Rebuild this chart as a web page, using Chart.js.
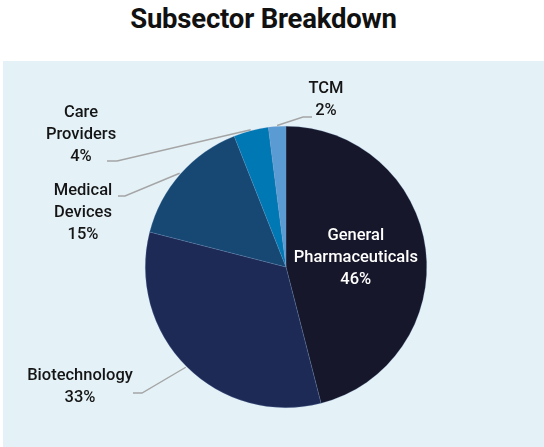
<!DOCTYPE html>
<html>
<head>
<meta charset="utf-8">
<script src="https://cdn.jsdelivr.net/npm/chart.js@4.4.0/dist/chart.umd.min.js"></script>
<style>
  html, body { margin: 0; padding: 0; background: #fff; }
  body { width: 544px; height: 447px; position: relative; overflow: hidden; font-family: Roboto, sans-serif; }
  #title { position: absolute; left: 0; top: 2px; width: 527px; text-align: center; font-weight: 700; font-size: 27.5px; color: #111; letter-spacing: -0.2px; }
  #panel { position: absolute; left: 3px; top: 61px; width: 541px; height: 386px; background: #e4f2f8; }
  #wrap { position: absolute; left: 0; top: 0; width: 544px; height: 447px; }
</style>
</head>
<body>
<div id="title">Subsector Breakdown</div>
<div id="panel"></div>
<div id="wrap"><canvas id="pieChart"></canvas></div>
<script>
const categories = ['General Pharmaceuticals', 'Biotechnology', 'Medical Devices', 'Care Providers', 'TCM'];
const shares = [46, 33, 15, 4, 2];
const sliceColors = ['#16172a', '#1e2a56', '#174873', '#0078b4', '#5b9bd4'];
const labelLines = [['General', 'Pharmaceuticals'], ['Biotechnology'], ['Medical', 'Devices'], ['Care', 'Providers'], ['TCM']];

// where each label's first line sits and where its leader line starts
const labelLayout = [
    { inside: true },
    { x: 80, y: 376, from: [133, 393], elbow: [142, 393] },
    { x: 83, y: 191, from: [118, 196], elbow: [125, 196] },
    { x: 81, y: 113, from: [107, 161], elbow: [117, 161] },
    { x: 326, y: 89, from: [312, 117], elbow: [303, 117] }
];

const sliceLabels = {
    id: 'sliceLabels',
    afterDatasetsDraw(chart) {
        const ctx = chart.ctx;
        const arcs = chart.getDatasetMeta(0).data;
        const lineGap = 22;
        ctx.save();
        ctx.font = '500 16.5px Roboto, sans-serif';
        ctx.textAlign = 'center';
        ctx.textBaseline = 'middle';
        arcs.forEach((arc, i) => {
            const lines = labelLines[i].concat([shares[i] + '%']);
            const lay = labelLayout[i];
            if (lay.inside) {
                const c = arc.getCenterPoint();
                const y0 = c.y - lineGap * (lines.length - 1) / 2;
                ctx.fillStyle = '#ffffff';
                lines.forEach((t, k) => ctx.fillText(t, c.x, y0 + k * lineGap));
                return;
            }
            const mid = (arc.startAngle + arc.endAngle) / 2;
            const ex = arc.x + Math.cos(mid) * (arc.outerRadius + 1);
            const ey = arc.y + Math.sin(mid) * (arc.outerRadius + 1);
            ctx.strokeStyle = '#a5a5a5';
            ctx.lineWidth = 1.4;
            ctx.beginPath();
            ctx.moveTo(lay.from[0], lay.from[1]);
            ctx.lineTo(lay.elbow[0], lay.elbow[1]);
            ctx.lineTo(ex, ey);
            ctx.stroke();
            ctx.fillStyle = '#151515';
            lines.forEach((t, k) => ctx.fillText(t, lay.x, lay.y + k * lineGap));
        });
        ctx.restore();
    }
};

new Chart(document.getElementById('pieChart'), {
    type: 'pie',
    data: {
        labels: categories,
        datasets: [{
            data: shares,
            backgroundColor: sliceColors,
            borderColor: 'rgba(120, 150, 195, 0.45)',
            borderWidth: 0.5
        }]
    },
    options: {
        responsive: true,
        maintainAspectRatio: false,
        animation: false,
        layout: { padding: { top: 126, bottom: 39, left: 145, right: 117 } },
        plugins: {
            legend: { display: false },
            tooltip: { enabled: false }
        }
    },
    plugins: [sliceLabels]
});
</script>
</body>
</html>
